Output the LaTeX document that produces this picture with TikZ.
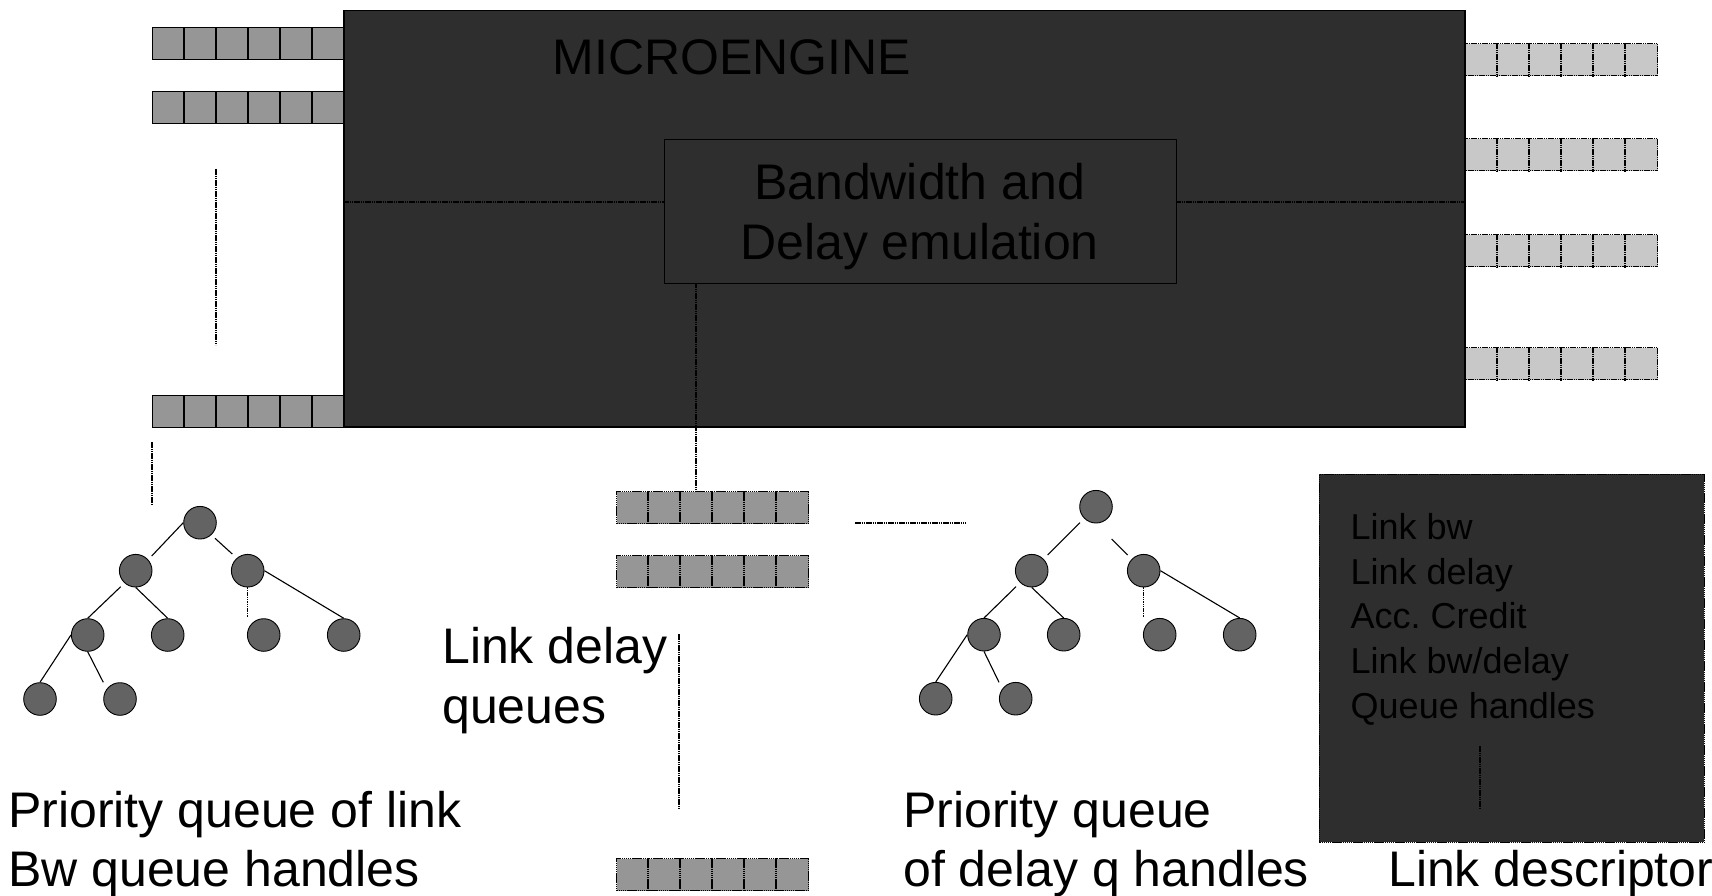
\documentclass[tikz,border=0pt]{standalone}
\usepackage{fontspec}
\setmainfont{Liberation Sans}
\usetikzlibrary{calc}
\frenchspacing
\definecolor{boxgray}{RGB}{46,46,46}
\definecolor{qdark}{RGB}{150,150,150}
\definecolor{qlight}{RGB}{200,200,200}
\definecolor{nodegray}{RGB}{99,99,99}
\newcommand{\qbar}[5]{% name, x, y(top), box style, divider style
  \node[#4] (#1) at (#2,#3) {};
  \foreach \k in {1,...,5}{\draw[#5] ($(#1.north west)+(\k*32,0)$) -- ($(#1.south west)+(\k*32,0)$);}
}
\begin{document}
\begin{tikzpicture}[x=1pt,y=-1pt,
  fine/.style={line width=1.1pt, dash pattern=on 1.6pt off 0.6pt},
  qshape/.style={minimum width=192pt, minimum height=32pt, inner sep=0pt, anchor=north west, draw=black},
  lqbox/.style={qshape, line width=1.3pt, fill=qdark},
  lqline/.style={draw=black, line width=1.3pt},
  rqbox/.style={qshape, line width=1.4pt, dash pattern=on 1.6pt off 0.6pt, fill=qlight},
  rqline/.style={draw=black, line width=1.4pt, dash pattern=on 1.6pt off 0.6pt},
  dqbox/.style={qshape, line width=1.1pt, dash pattern=on 1.5pt off 0.6pt, fill=qdark},
  dqline/.style={draw=black, line width=1.1pt, dash pattern=on 1.5pt off 0.6pt},
  tnode/.style={circle, draw=black, line width=0.9pt, fill=nodegray, minimum size=32.6pt, inner sep=0pt},
  tedge/.style={line width=1.1pt},
  big/.style={font=\fontsize{50}{59.5}\selectfont, inner sep=0pt},
  small/.style={font=\fontsize{36}{44.75}\selectfont, inner sep=0pt},
  darkbox/.style={fill=boxgray, inner sep=0pt, anchor=north west}
]
\useasboundingbox (0,0) rectangle (1712,896);

% left queues
\qbar{lq1}{152}{27}{lqbox}{lqline}
\qbar{lq2}{152}{91}{lqbox}{lqline}
\qbar{lq3}{152}{395}{lqbox}{lqline}

% main box
\node[darkbox, draw=black, line width=1.5pt, minimum width=1121pt, minimum height=416pt] (me) at (343,10) {};
\node[big, anchor=base] (metext) at (731.8,75) {MICROENGINE};

% right queues
\qbar{rq1}{1465}{43}{rqbox}{rqline}
\qbar{rq2}{1465}{138}{rqbox}{rqline}
\qbar{rq3}{1465}{234}{rqbox}{rqline}
\qbar{rq4}{1465}{347}{rqbox}{rqline}

% bandwidth box
\node[darkbox, draw=black, line width=1.2pt, minimum width=512pt, minimum height=144pt] (bw) at (664,139) {};
\node[big, anchor=base, align=center] (bwtext) at (919.5,259) {Bandwidth and\\Delay emulation};
\coordinate (bwl) at ($(bw.north west)+(0,63)$);
\coordinate (bwr) at ($(bw.north east)+(0,63)$);
\draw[fine] (me.west |- bwl) -- (bwl);
\draw[fine] (bwr) -- (me.east |- bwr);

% delay queues
\qbar{dq1}{616}{491}{dqbox}{dqline}
\qbar{dq2}{616}{555}{dqbox}{dqline}
\qbar{dq3}{616}{858}{dqbox}{dqline}
\draw[fine] ($(bw.south west)+(32,0)$) -- ($(dq1.north west)+(80,0)$);
\node[big, anchor=base west, align=left] (dqtext) at (442,723) {Link delay\\queues};

% free lines
\coordinate (la1) at (216,169); \coordinate (la2) at (216,345);
\draw[fine] (la1) -- (la2);
\coordinate (lb1) at (152,442); \coordinate (lb2) at (152,505);
\draw[fine] (lb1) -- (lb2);
\coordinate (lc1) at (855,523); \coordinate (lc2) at (966,523);
\draw[fine] (lc1) -- (lc2);
\coordinate (ld1) at (679,634); \coordinate (ld2) at (679,809);
\draw[fine] (ld1) -- (ld2);

% left tree
\node[tnode] (t1r) at (200,522.7) {};
\node[tnode] (t1a) at (135.7,570.7) {};
\node[tnode] (t1b) at (247.7,570.7) {};
\node[tnode] (t1c) at (87.7,635) {};
\node[tnode] (t1d) at (167.7,635) {};
\node[tnode] (t1e) at (263.7,635) {};
\node[tnode] (t1f) at (343.7,635) {};
\node[tnode] (t1g) at (40,699) {};
\node[tnode] (t1h) at (120,699) {};
\draw[tedge] (t1r.west) -- ($(t1a)+(16,-14.7)$);
\draw[tedge] ($(t1r)+(15,15.6)$) -- ($(t1b)+(-15.4,-16.7)$);
\draw[tedge] ($(t1a)+(-15,16)$) -- (t1c.north);
\draw[tedge] (t1a.south) -- (t1d.north);
\draw[tedge, dash pattern=on 1.5pt off 0.8pt] (t1b.south) -- ($(t1e)+(-16,-18.3)$);
\draw[tedge] (t1b.east) -- (t1f.north);
\draw[tedge] (t1c.west) -- (t1g.north);
\draw[tedge] (t1c.south) -- ($(t1h)+(-16.7,-16.7)$);
\node[big, anchor=base west, align=left] (t1text) at (8,886.7) {Priority queue of link\\Bw queue handles};

% right tree
\node[tnode] (t2r) at (1096,506.7) {};
\node[tnode] (t2a) at (1031.7,570.7) {};
\node[tnode] (t2b) at (1143.7,570.7) {};
\node[tnode] (t2c) at (984,634.7) {};
\node[tnode] (t2d) at (1063.7,634.7) {};
\node[tnode] (t2e) at (1159.7,634.7) {};
\node[tnode] (t2f) at (1239.7,634.7) {};
\node[tnode] (t2g) at (935.7,698.7) {};
\node[tnode] (t2h) at (1015.7,698.7) {};
\draw[tedge] ($(t2r)+(-16,16)$) -- ($(t2a)+(16,-15.7)$);
\draw[tedge] ($(t2r)+(15.7,32.3)$) -- ($(t2b)+(-16,-15.7)$);
\draw[tedge] ($(t2a)+(-15.7,16)$) -- (t2c.north);
\draw[tedge] (t2a.south) -- (t2d.north);
\draw[tedge, dash pattern=on 1.5pt off 0.8pt] (t2b.south) -- ($(t2e)+(-16,-18)$);
\draw[tedge] (t2b.east) -- (t2f.north);
\draw[tedge] (t2c.west) -- (t2g.north);
\draw[tedge] (t2c.south) -- ($(t2h)+(-16.7,-16.4)$);
\node[big, anchor=base west, align=left] (t2text) at (903,886.7) {Priority queue\\of delay q handles};

% link descriptor
\node[darkbox, draw=black, line width=0.9pt, dash pattern=on 1.5pt off 0.6pt, minimum width=385pt, minimum height=368pt] (ld) at (1319,474) {};
\node[small, anchor=base west, align=left] (ldtext) at (1350.5,718.3) {Link bw\\Link delay\\Acc. Credit\\Link bw/delay\\Queue handles};
\draw[fine] ($(ld.north west)+(161,272)$) -- ($(ld.north west)+(161,335)$);
\node[big, anchor=base west] (ldlabel) at (1388,886.7) {Link descriptor};
\end{tikzpicture}
\end{document}
